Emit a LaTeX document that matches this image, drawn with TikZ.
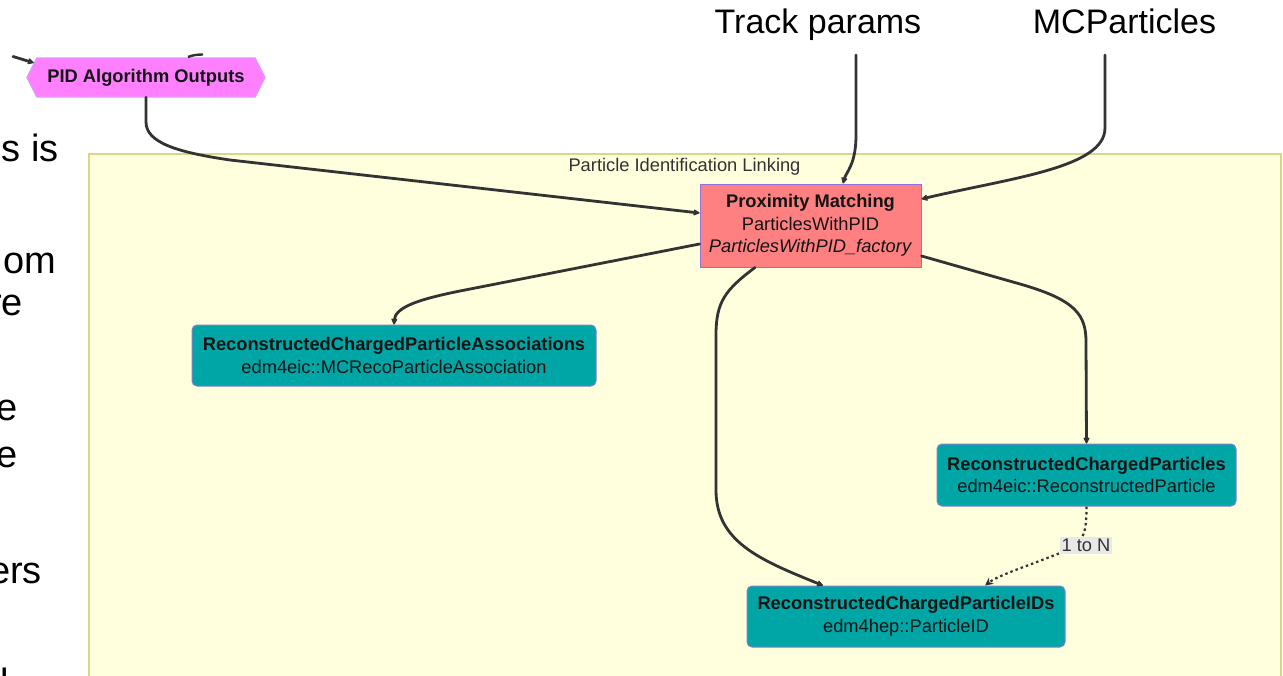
\documentclass[tikz,border=0pt]{standalone}
\usepackage{fontspec}
\setmainfont{Liberation Sans}
\usetikzlibrary{arrows.meta,calc,backgrounds}

\definecolor{clusterfill}{HTML}{FFFFDE}
\definecolor{clusterline}{HTML}{D6D68C}
\definecolor{algofill}{HTML}{FF8080}
\definecolor{nodeline}{HTML}{9370DB}
\definecolor{dataline}{HTML}{7F7FD0}
\definecolor{datafill}{HTML}{00A6A6}
\definecolor{hexfill}{HTML}{FF80FF}
\definecolor{hexline}{HTML}{CFA2FF}
\definecolor{edgecol}{HTML}{333333}
\definecolor{labelbg}{HTML}{E8E8E8}
\definecolor{labeltext}{HTML}{333333}

\begin{document}
\begin{tikzpicture}[x=1pt,y=-1pt,
  every node/.style={font=\fontsize{18.3}{22.5}\selectfont, inner sep=0pt, text=black!92},
  bigtext/.style={font=\fontsize{34}{40}\selectfont, text=black},
  paratext/.style={font=\fontsize{38}{44}\selectfont, text=black},
  algo/.style={draw=nodeline, fill=algofill, line width=1pt, align=center,
    minimum width=221pt, minimum height=83pt},
  datanode/.style={draw=dataline, fill=datafill, line width=1pt, rounded corners=5pt, align=center},
  flow/.style={draw=edgecol, line width=2.8pt, line cap=round,
    -{Stealth[length=8pt,width=8pt,round]}},
  linkflow/.style={draw=edgecol, line width=2.2pt, dash pattern=on 2.5pt off 3pt,
    -{Stealth[length=8pt,width=8pt]}},
  linklabel/.style={fill=labelbg, text=labeltext, inner xsep=1.5pt, inner ysep=2pt},
]
\useasboundingbox (0,0) rectangle (1283,675);
\clip (0,0) rectangle (1283,675);

% cluster
\draw[fill=clusterfill, draw=clusterline, line width=1.2pt] (89,154) rectangle (1281,690);
\node[anchor=base, text=labeltext] (clusterlabel) at (684.5,171.5) {Particle Identification Linking};

% paragraph fragments at the left edge
\node[paratext, anchor=base east] (p1) at (59,161) {s is};
\node[paratext, anchor=base east] (p2) at (56,273) {om};
\node[paratext, anchor=base east] (p3) at (23,315) {re};
\node[paratext, anchor=base east] (p4) at (18,420) {e};
\node[paratext, anchor=base east] (p5) at (18,467) {e};
\node[paratext, anchor=base east] (p6) at (42,583) {ers};
\node[paratext, anchor=base west] (p7) at (0,695) {l};

% inputs above
\node[bigtext, anchor=base] (trk) at (818,33) {Track params};
\node[bigtext, anchor=base] (mcp) at (1124.5,33) {MCParticles};
\coordinate (trkout) at (856,55);
\coordinate (mcpout) at (1105,55);

% PID algorithm outputs (hexagon)
\node[font=\bfseries\fontsize{18.3}{22.5}\selectfont, minimum width=218pt, minimum height=39pt] (pid) at (146,77.5) {PID Algorithm Outputs};
\begin{scope}[on background layer]
  \draw[fill=hexfill, draw=hexline, line width=1pt]
    ($(pid.west)+(-10,0)$) -- (pid.north west) -- (pid.north east)
    -- ($(pid.east)+(10,0)$) -- (pid.south east) -- (pid.south west) -- cycle;
\end{scope}
\coordinate (inleft) at (13,56.5);
\coordinate (intop1) at (188,57);
\coordinate (intop2) at (203,54.5);
\draw[flow] (inleft) -- ($(pid.north west)+(-3,5)$);
\draw[draw=edgecol, line width=2.4pt] (intop1) .. controls (193,55) and (198,54.5) .. (intop2);

% factory
\node[algo] (pm) at (810.5,225.5)
  {\textbf{Proximity Matching}\\ParticlesWithPID\\\textit{ParticlesWithPID\_factory}};

% collections
\node[datanode, minimum width=404pt, minimum height=61pt] (assoc) at (394,355.5)
  {\textbf{ReconstructedChargedParticleAssociations}\\edm4eic::MCRecoParticleAssociation};
\node[datanode, minimum width=299pt, minimum height=62pt] (rcp) at (1086.5,475)
  {\textbf{ReconstructedChargedParticles}\\edm4eic::ReconstructedParticle};
\node[datanode, minimum width=318pt, minimum height=61pt] (ids) at (906,616.5)
  {\textbf{ReconstructedChargedParticleIDs}\\edm4hep::ParticleID};

% inputs into the factory
\draw[flow] (trkout) -- (856,135) .. controls (856,165) and (846,172) .. ([xshift=32.5pt]pm.north);
\draw[flow] (mcpout) -- (1105,128) .. controls (1105,168) and (1010,178) .. ([yshift=26.5pt]pm.east);
\draw[flow] (pid.south) -- (146,122) .. controls (146,142) and (175,152) .. (230,160) -- ([yshift=12.5pt]pm.west);

% factory outputs
\draw[flow] ([yshift=-18.5pt]pm.west) -- (460,291) .. controls (415,300) and (395,308) .. (assoc.north);
\draw[flow] ([xshift=-55.5pt]pm.south) .. controls (725,290) and (716,302) .. (716,335)
  -- (716,490) .. controls (716,542) and (760,560) .. ([xshift=-83pt]ids.north);
\draw[flow] ([yshift=-30.5pt]pm.east) -- (1020,284) .. controls (1076,300) and (1086,315) .. (1086,342) -- (rcp.north);

% one-to-many link
\draw[linkflow] (rcp.south) .. controls (1086.5,530) and (1084,541) .. (1072,548)
  .. controls (1040,562) and (1000,574) .. ([xshift=79pt]ids.north);
\node[linklabel] (lnk) at (1086,545.5) {1 to N};
\end{tikzpicture}
\end{document}
